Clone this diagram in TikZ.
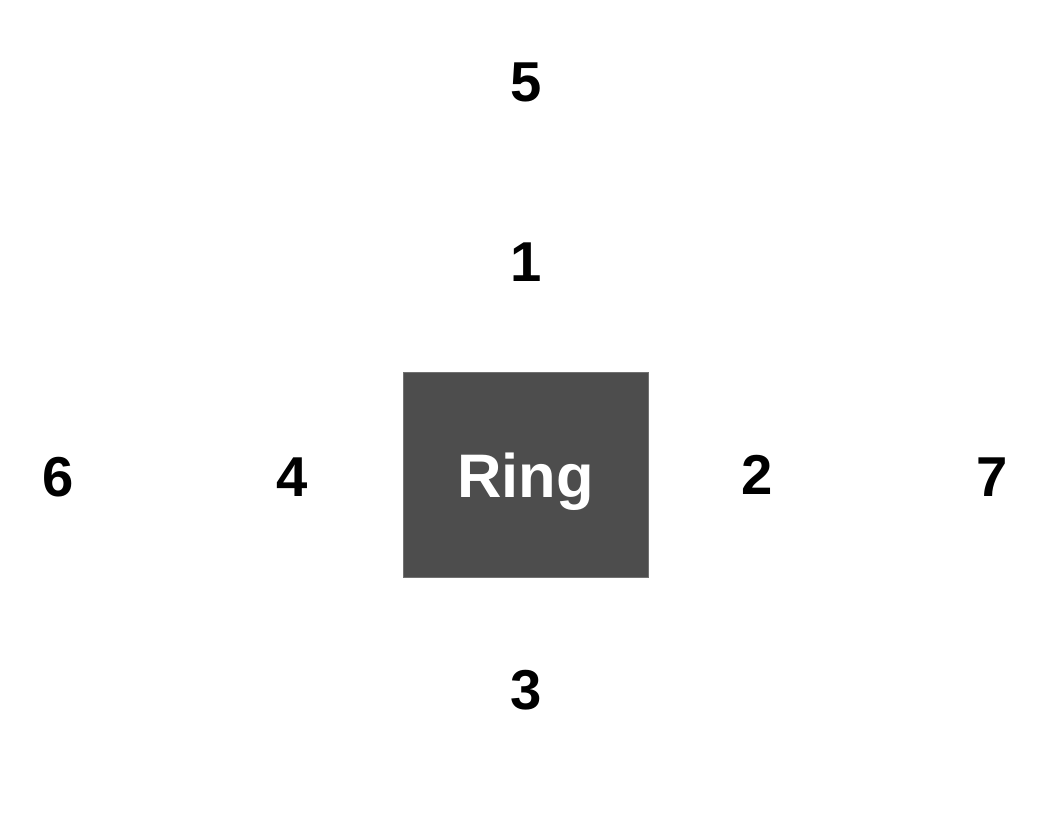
\documentclass[tikz,border=0pt]{standalone}
\usepackage{fontspec}
\setmainfont{Liberation Sans}
\usepackage{tikz}
\usetikzlibrary{positioning}
\usepackage{xcolor}
\definecolor{ringgray}{RGB}{77,77,77}

\begin{document}
\begin{tikzpicture}[
    every node/.style={font=\bfseries},
    num/.style={inner sep=0pt, font=\fontsize{32}{38}\selectfont\bfseries},
    ringbox/.style={rectangle, fill=ringgray, draw=ringgray!80!white, thin, minimum width=4.9cm, minimum height=4.1cm, inner sep=0pt, text=white, text depth=0pt, font=\fontsize{35}{42}\selectfont\bfseries}
]
\useasboundingbox (0,0) rectangle (21,16.8);

% Central node
\node[ringbox] (ring) at (10.51,7.30) {Ring};

% Positions
\node[num] (n1) at (10.52,11.56) {1};
\node[num] (n2) at (15.14,7.30) {2};
\node[num] (n3) at (10.52,3.00) {3};
\node[num] (n4) at (5.84,7.26) {4};
\node[num] (n5) at (10.52,15.16) {5};
\node[num] (n6) at (1.16,7.26) {6};
\node[num] (n7) at (19.84,7.26) {7};

\end{tikzpicture}
\end{document}
